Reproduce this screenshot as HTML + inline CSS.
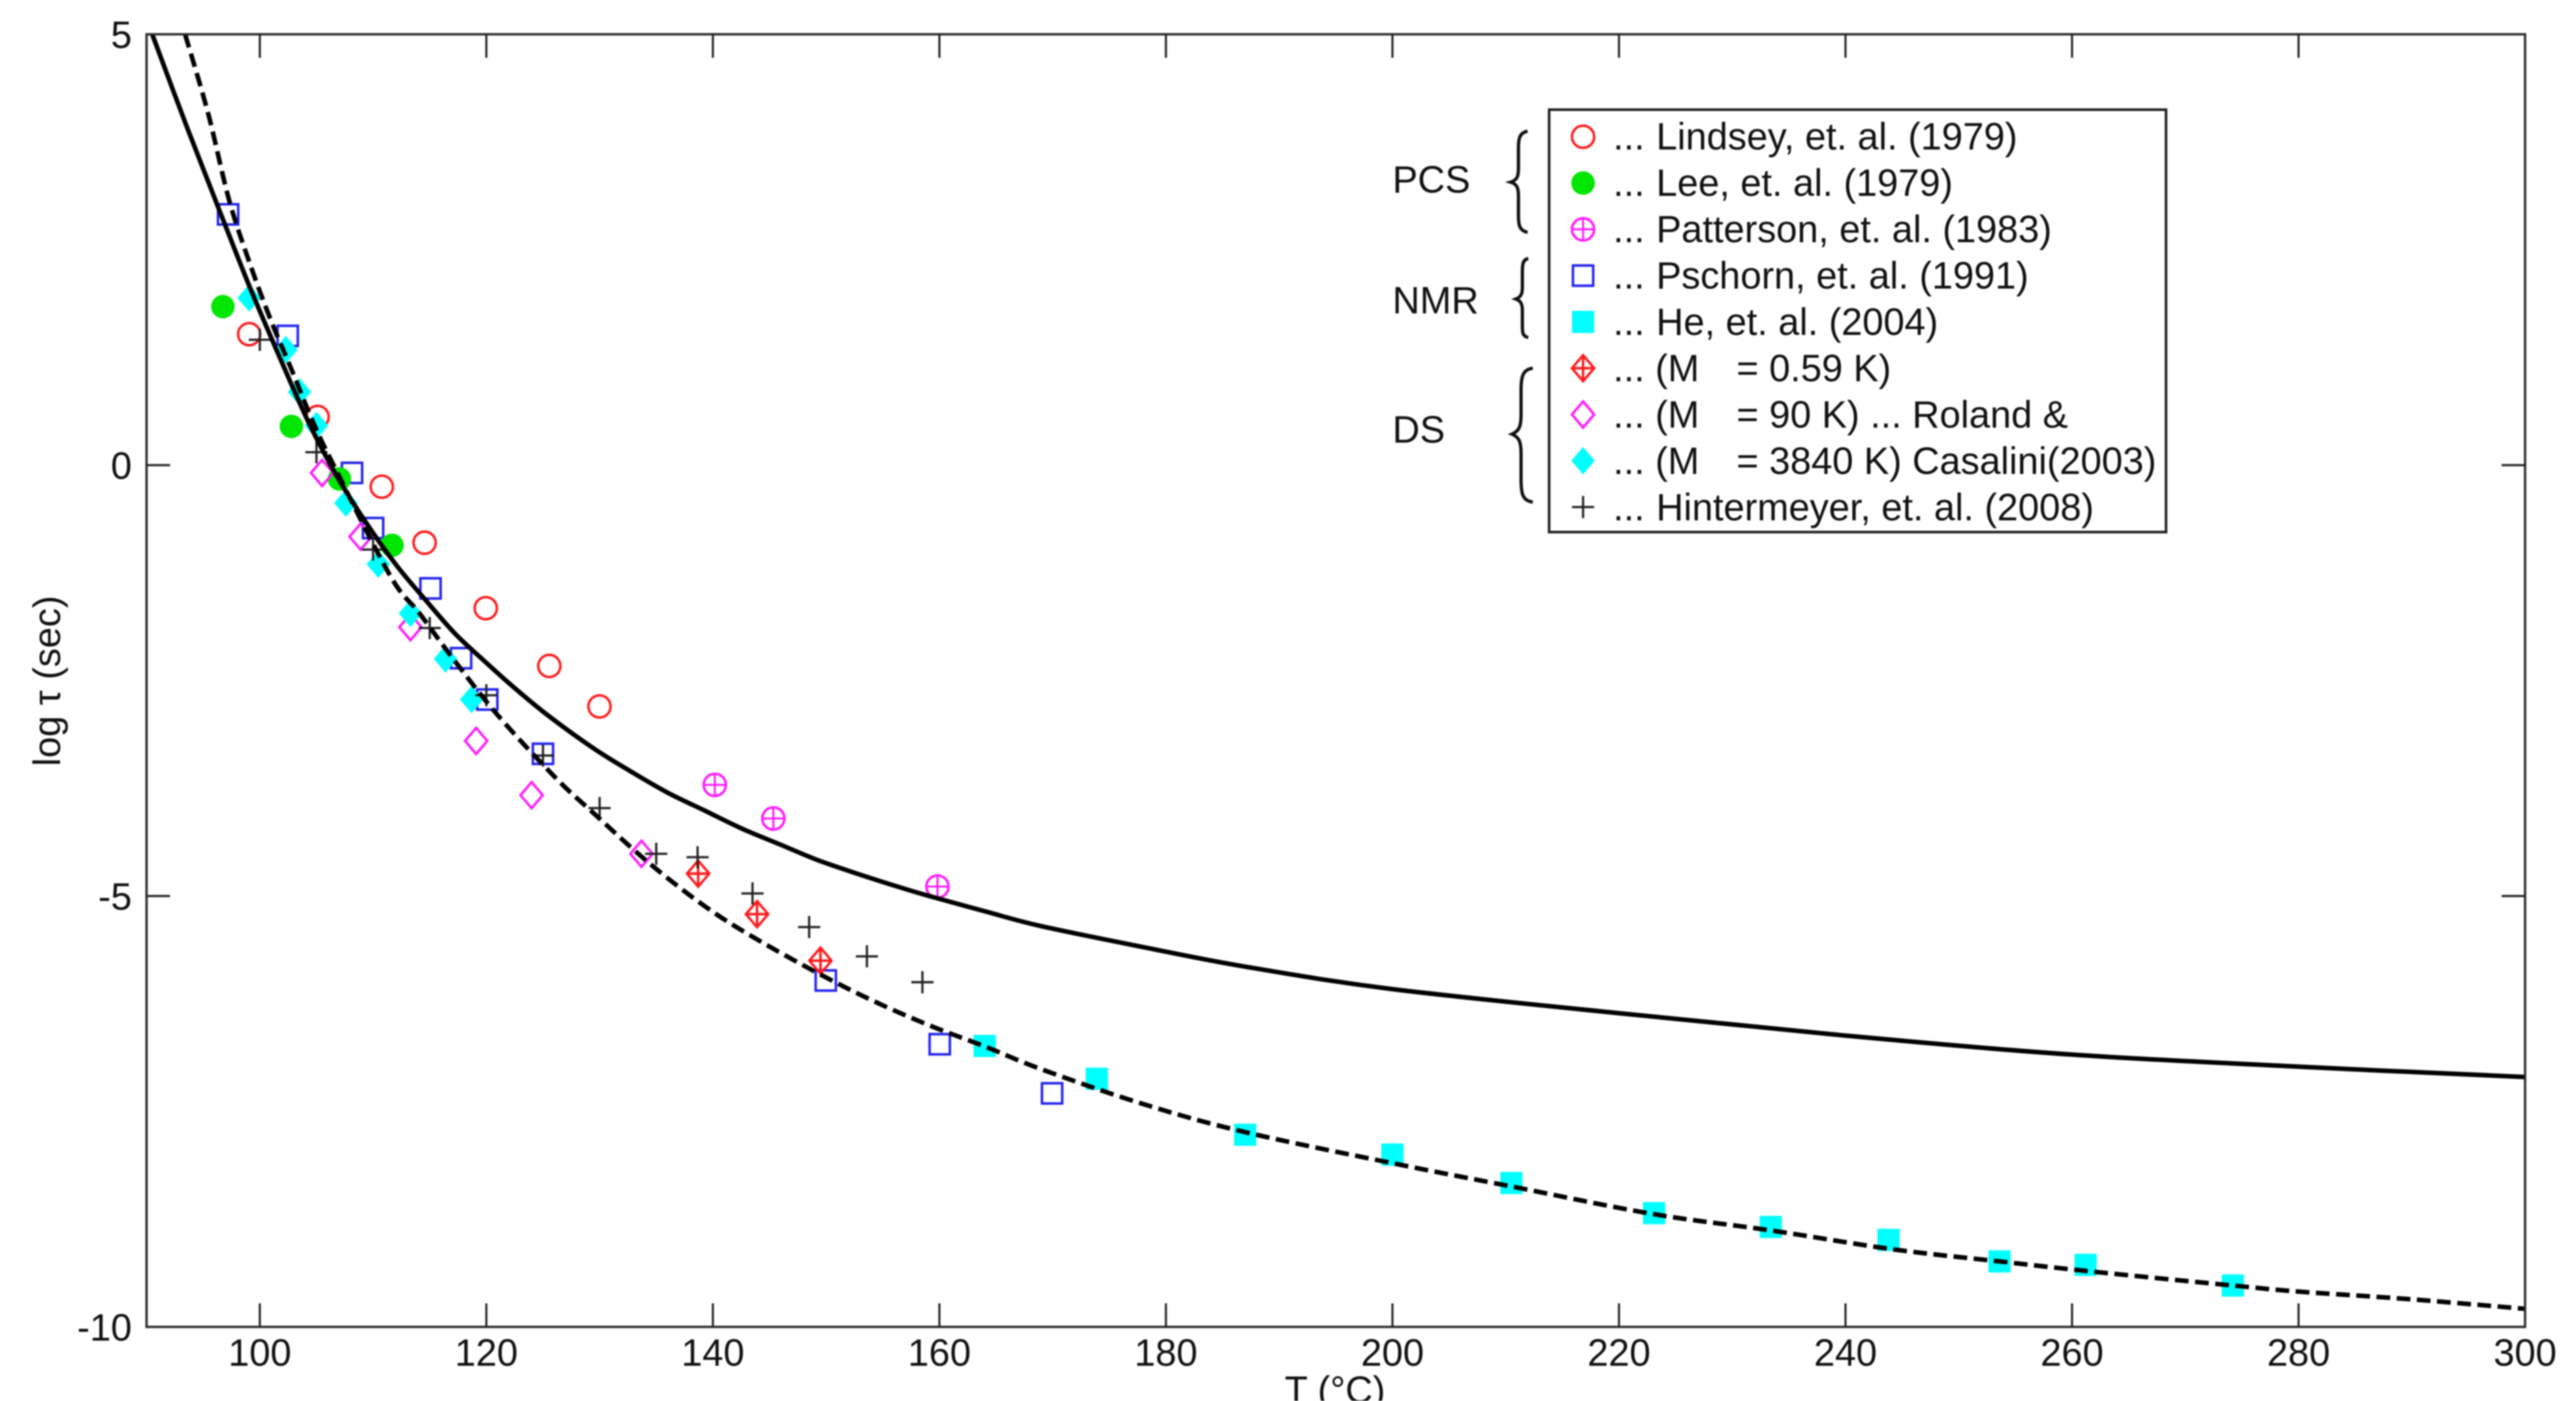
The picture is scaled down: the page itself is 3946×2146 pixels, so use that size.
<!DOCTYPE html>
<html lang="en">
<head>
<meta charset="utf-8">
<title>log tau versus temperature</title>
<style>
html,body{margin:0;padding:0;background:#fff;width:3946px;height:2146px;overflow:hidden}
#chart{display:block;filter:blur(1.1px)}
text{font-family:"Liberation Sans","DejaVu Sans",sans-serif;font-size:58px;fill:#111}
</style>
</head>
<body>
<svg id="chart" xmlns="http://www.w3.org/2000/svg" width="3946" height="2146" viewBox="0 0 3946 2146">
  <rect x="0" y="0" width="3946" height="2146" fill="#fff"/>
  <g id="markers"></g>
  <g id="curves"></g>
  <g id="axes"></g>
  <text transform="translate(92,1043) rotate(-90)" text-anchor="middle">log τ (sec)</text>
  <text x="2045" y="2149" text-anchor="middle">T (°C)</text>

  <g>
    <text x="2133" y="295">PCS</text>
    <text x="2133" y="480">NMR</text>
    <text x="2133" y="678">DS</text>
    <path fill="none" stroke="#111" stroke-width="5" d="M2340 201 C2328 203 2326 212 2326 226 L2326 258 C2326 270 2324 276 2314 279 C2324 282 2326 288 2326 300 L2326 330 C2326 346 2328 353 2340 356"/>
    <path fill="none" stroke="#111" stroke-width="5" d="M2341 396 C2332 398 2332 406 2332 418 L2332 440 C2332 450 2330 455 2322 458 C2330 461 2332 466 2332 476 L2332 496 C2332 510 2332 515 2341 517"/>
    <path fill="none" stroke="#111" stroke-width="5" d="M2348 564 C2332 566 2330 578 2330 598 L2330 634 C2330 652 2328 660 2316 665 C2328 670 2330 678 2330 696 L2330 734 C2330 756 2332 767 2348 769"/>
  </g>

  <g>
    <rect x="2373" y="168" width="945" height="647" fill="#fff" stroke="#222" stroke-width="4"/>
    <g id="legend-markers"></g>
    <text x="2471" y="229">...<tspan x="2537">Lindsey, et. al. (1979)</tspan></text>
    <text x="2471" y="300">...<tspan x="2537">Lee, et. al. (1979)</tspan></text>
    <text x="2471" y="371">...<tspan x="2537">Patterson, et. al. (1983)</tspan></text>
    <text x="2471" y="442">...<tspan x="2537">Pschorn, et. al. (1991)</tspan></text>
    <text x="2471" y="513">...<tspan x="2537">He, et. al. (2004)</tspan></text>
    <text x="2471" y="584">... (M<tspan x="2660">= 0.59 K)</tspan></text>
    <text x="2471" y="655">... (M<tspan x="2660">= 90 K) ... Roland &amp;</tspan></text>
    <text x="2471" y="726">... (M<tspan x="2660">= 3840 K) Casalini(2003)</tspan></text>
    <text x="2471" y="797">...<tspan x="2537">Hintermeyer, et. al. (2008)</tspan></text>
  </g>
</svg>
<script>
// ----- tick labels
const xTicks = [100, 120, 140, 160, 180, 200, 220, 240, 260, 280, 300];
const yTicks = [5, 0, -5, -10];

// ----- measured series (temperature in deg C, log tau in sec)
const lindseyT = [99.06, 105.1, 110.77, 114.55, 119.95, 125.56, 129.99];
const lindseyV = [1.52, 0.56, -0.25, -0.90, -1.66, -2.33, -2.80];
const leeT = [96.74, 102.79, 107.03, 111.67];
const leeV = [1.84, 0.45, -0.16, -0.93];
const pattersonT = [140.17, 145.34, 159.83];
const pattersonV = [-3.71, -4.10, -4.89];
const pschornT = [97.2, 102.46, 108.14, 110.0, 115.07, 117.77, 120.08, 125.0, 149.97, 160.03, 169.95];
const pschornV = [2.91, 1.50, -0.09, -0.73, -1.43, -2.24, -2.72, -3.35, -5.98, -6.72, -7.29];
const heT = [164.0, 173.9, 187.0, 200.0, 210.5, 223.1, 233.4, 243.8, 253.6, 261.2, 274.2];
const heV = [-6.74, -7.12, -7.77, -8.00, -8.33, -8.68, -8.84, -8.99, -9.24, -9.28, -9.52];
const dsLowT = [138.7, 143.9, 149.5];
const dsLowV = [-4.74, -5.21, -5.75];
const dsMidT = [105.5, 108.9, 113.3, 119.1, 124.0, 133.7];
const dsMidV = [-0.09, -0.83, -1.88, -3.20, -3.83, -4.51];
const dsHighT = [99.06, 102.3, 103.5, 105.0, 107.6, 110.46, 113.3, 116.4, 118.7];
const dsHighV = [1.94, 1.34, 0.85, 0.46, -0.44, -1.15, -1.72, -2.25, -2.72];
const hinterT = [100, 105, 110, 115, 120, 125, 130, 135, 138.65, 143.5, 148.5, 153.6, 158.5];
const hinterV = [1.455, 0.15, -0.98, -1.89, -2.67, -3.37, -3.98, -4.51, -4.55, -4.97, -5.36, -5.70, -6.0];

// ----- fit curves
const solidT = [90.5, 93.6, 96.54, 99.1, 101.76, 104.33, 106.9, 109.5, 112.05, 114.6, 117.2, 119.8, 122.35, 125.4, 129.4, 132.7, 136, 139.3, 142.6, 145.9, 149.2, 152.5, 155.8, 159.1, 164.1, 169, 177.9, 187, 200, 220, 240, 260, 280, 300];
const solidV = [5.0, 3.91, 2.92, 2.07, 1.25, 0.49, -0.15, -0.69, -1.16, -1.56, -1.95, -2.27, -2.57, -2.90, -3.28, -3.55, -3.80, -4.01, -4.22, -4.40, -4.58, -4.73, -4.87, -5.0, -5.18, -5.35, -5.59, -5.82, -6.08, -6.36, -6.62, -6.84, -6.98, -7.1];
const dashT = [93.4, 95.44, 97.28, 99.12, 100.95, 102.8, 104.6, 106.47, 111.5, 114.1, 117.2, 121.06, 126.05, 129.4, 134.3, 139.3, 143.6, 149.2, 154.2, 159.1, 164.1, 169, 177.9, 187, 200, 210.5, 223, 233.4, 244.2, 253.6, 261.2, 274.2, 280, 290, 300];
const dashV = [5.0, 4.08, 3.08, 2.34, 1.69, 1.11, 0.53, 0.01, -1.28, -1.72, -2.27, -2.91, -3.62, -4.03, -4.61, -5.12, -5.48, -5.89, -6.22, -6.50, -6.75, -7.01, -7.41, -7.74, -8.10, -8.37, -8.69, -8.88, -9.10, -9.24, -9.35, -9.52, -9.59, -9.68, -9.79];

// ----- axis functions
const plotLeft = 224.5, plotRight = 3868, plotTop = 52.5, plotBottom = 2032.5;
const xMin = 90, xMax = 300, yMin = -10, yMax = 5;
function xScale(t) { return plotLeft + (t - xMin) / (xMax - xMin) * (plotRight - plotLeft); }
function yScale(v) { return plotBottom - (v - yMin) / (yMax - yMin) * (plotBottom - plotTop); }

const NS = 'http://www.w3.org/2000/svg';
function mk(parent, tag, attrs) {
  const el = document.createElementNS(NS, tag);
  for (const k in attrs) el.setAttribute(k, attrs[k]);
  parent.appendChild(el);
  return el;
}

// ----- marker glyphs
function drawMarker(parent, kind, cx, cy) {
  const g = mk(parent, 'g', {});
  const sw = 3.8;
  if (kind === 'circle') {
    mk(g, 'circle', { cx: cx, cy: cy, r: 17, fill: 'none', stroke: '#ff1a1a', 'stroke-width': sw });
  } else if (kind === 'dot') {
    mk(g, 'circle', { cx: cx, cy: cy, r: 18, fill: '#00e600' });
  } else if (kind === 'ocross') {
    mk(g, 'circle', { cx: cx, cy: cy, r: 17, fill: 'none', stroke: '#ff19ff', 'stroke-width': sw });
    mk(g, 'path', { d: 'M' + (cx - 17) + ' ' + cy + 'H' + (cx + 17) + 'M' + cx + ' ' + (cy - 17) + 'V' + (cy + 17), fill: 'none', stroke: '#ff19ff', 'stroke-width': 3 });
  } else if (kind === 'square') {
    mk(g, 'rect', { x: cx - 15.5, y: cy - 15.5, width: 31, height: 31, fill: 'none', stroke: '#2222ee', 'stroke-width': sw });
  } else if (kind === 'fsquare') {
    mk(g, 'rect', { x: cx - 17, y: cy - 17, width: 34, height: 34, fill: '#00ffff' });
  } else if (kind === 'dcross') {
    mk(g, 'path', { d: 'M' + cx + ' ' + (cy - 20) + 'L' + (cx + 17) + ' ' + cy + 'L' + cx + ' ' + (cy + 20) + 'L' + (cx - 17) + ' ' + cy + 'Z M' + (cx - 17) + ' ' + cy + 'H' + (cx + 17) + 'M' + cx + ' ' + (cy - 20) + 'V' + (cy + 20), fill: 'none', stroke: '#ff1a1a', 'stroke-width': sw });
  } else if (kind === 'diamond') {
    mk(g, 'path', { d: 'M' + cx + ' ' + (cy - 20) + 'L' + (cx + 17) + ' ' + cy + 'L' + cx + ' ' + (cy + 20) + 'L' + (cx - 17) + ' ' + cy + 'Z', fill: 'none', stroke: '#ff19ff', 'stroke-width': sw });
  } else if (kind === 'fdiamond') {
    mk(g, 'path', { d: 'M' + cx + ' ' + (cy - 21) + 'L' + (cx + 18) + ' ' + cy + 'L' + cx + ' ' + (cy + 21) + 'L' + (cx - 18) + ' ' + cy + 'Z', fill: '#00ffff' });
  } else if (kind === 'plus') {
    mk(g, 'path', { d: 'M' + (cx - 17) + ' ' + cy + 'H' + (cx + 17) + 'M' + cx + ' ' + (cy - 17) + 'V' + (cy + 17), fill: 'none', stroke: '#222', 'stroke-width': 3.4 });
  }
  return g;
}

function drawSeries(kind, ts, vs, name) {
  const group = mk(document.getElementById('markers'), 'g', {});
  
  
  for (let i = 0; i < ts.length; i++) {
    const m = drawMarker(group, kind, xScale(ts[i]), yScale(vs[i]));
    
    
  }
}
drawSeries('fsquare', heT, heV, 'he-2004');
drawSeries('square', pschornT, pschornV, 'pschorn-1991');
drawSeries('dot', leeT, leeV, 'lee-1979');
drawSeries('circle', lindseyT, lindseyV, 'lindsey-1979');
drawSeries('ocross', pattersonT, pattersonV, 'patterson-1983');
drawSeries('diamond', dsMidT, dsMidV, 'ds-90k');
drawSeries('fdiamond', dsHighT, dsHighV, 'ds-3840k');
drawSeries('dcross', dsLowT, dsLowV, 'ds-059k');
drawSeries('plus', hinterT, hinterV, 'hintermeyer-2008');

// ----- smooth curve through the read points (Catmull-Rom to Bezier)
function curvePath(ts, vs) {
  const p = ts.map((t, i) => [xScale(t), yScale(vs[i])]);
  let d = 'M' + p[0][0].toFixed(1) + ' ' + p[0][1].toFixed(1);
  for (let i = 0; i < p.length - 1; i++) {
    const a = p[Math.max(i - 1, 0)], b = p[i], c = p[i + 1], e = p[Math.min(i + 2, p.length - 1)];
    const c1x = b[0] + (c[0] - a[0]) / 6, c1y = b[1] + (c[1] - a[1]) / 6;
    const c2x = c[0] - (e[0] - b[0]) / 6, c2y = c[1] - (e[1] - b[1]) / 6;
    d += 'C' + c1x.toFixed(1) + ' ' + c1y.toFixed(1) + ' ' + c2x.toFixed(1) + ' ' + c2y.toFixed(1) + ' ' + c[0].toFixed(1) + ' ' + c[1].toFixed(1);
  }
  return d;
}
const curvesG = document.getElementById('curves');
const solidPath = mk(curvesG, 'path', { d: curvePath(solidT, solidV), fill: 'none', stroke: '#000', 'stroke-width': 7 });


const dashPath = mk(curvesG, 'path', { d: curvePath(dashT, dashV), fill: 'none', stroke: '#000', 'stroke-width': 7, 'stroke-dasharray': '21 10' });



// ----- axes
const axesG = document.getElementById('axes');
const frame = mk(axesG, 'rect', { x: plotLeft, y: plotTop, width: plotRight - plotLeft, height: plotBottom - plotTop, fill: 'none', stroke: '#2b2b2b', 'stroke-width': 3.6 });


const tickLen = 36;
xTicks.forEach(function (t) {
  const x = xScale(t);
  if (t < xMax) {
    const bt = mk(axesG, 'line', { x1: x, x2: x, y1: plotBottom, y2: plotBottom - tickLen, stroke: '#222', 'stroke-width': 3.2 });
    
    
    const tt = mk(axesG, 'line', { x1: x, x2: x, y1: plotTop, y2: plotTop + tickLen, stroke: '#222', 'stroke-width': 3.2 });
    
    
  }
  const lab = mk(axesG, 'text', { x: x, y: 2092, 'text-anchor': 'middle' });
  
  
  lab.textContent = t;
});
yTicks.forEach(function (v) {
  const y = yScale(v);
  if (v > yMin && v < yMax) {
    const lt = mk(axesG, 'line', { x1: plotLeft, x2: plotLeft + tickLen, y1: y, y2: y, stroke: '#222', 'stroke-width': 3.2 });
    
    
    const rt = mk(axesG, 'line', { x1: plotRight, x2: plotRight - tickLen, y1: y, y2: y, stroke: '#222', 'stroke-width': 3.2 });
    
    
  }
  const lab = mk(axesG, 'text', { x: 202, y: y + 21, 'text-anchor': 'end' });
  
  
  lab.textContent = v;
});

// ----- legend glyphs
const legendKinds = ['circle', 'dot', 'ocross', 'square', 'fsquare', 'dcross', 'diamond', 'fdiamond', 'plus'];
const legendG = document.getElementById('legend-markers');
legendKinds.forEach(function (kind, i) {
  const m = drawMarker(legendG, kind, 2425, 209.5 + i * 70.9);
  
  
});
</script>
</body>
</html>
